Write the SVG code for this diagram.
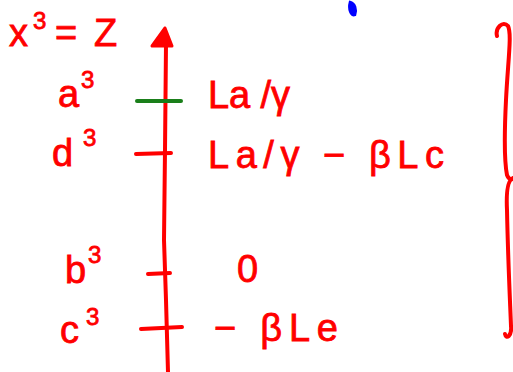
<svg xmlns="http://www.w3.org/2000/svg" width="513" height="372" viewBox="0 0 513 372">
<style>
.t{font-family:"Liberation Sans","DejaVu Sans",sans-serif;fill:#ff0000;stroke:#ff0000;stroke-width:0.8;font-size:38px}
.s{font-size:24px}
.ln{stroke:#ff0000;stroke-width:4;fill:none;stroke-linecap:round;stroke-linejoin:round}
</style>
<rect width="513" height="372" fill="#fff"/>
<g id="connectors">
<path class="ln" d="M166,44 L165,150 L164,240 L166,300 L168,372"/>
<path d="M165,28 L152,46 L172,46 Z" fill="#ff0000" stroke="#ff0000" stroke-width="3" stroke-linejoin="round"/>
<path d="M137,101 L181,101" stroke="#1a7f1a" stroke-width="4" stroke-linecap="round"/>
<path class="ln" d="M136,154 L171,153"/>
<path class="ln" d="M148,274 L170,273"/>
<path class="ln" d="M141,329 L182,327"/>
<path class="ln" d="M497,36 C495,28 503,20 508,26 C512,34 508,60 506,100 C504,140 504,160 507,175 C509,180 512,180 513,178 M513,178 C508,180 506,190 507,210 C508,260 510,300 511,326 C512,336 506,340 505,334"/>
<path d="M350,2 C348,9 351,17 355,15 C357,10 355,3 350,2 Z" fill="#0000ff" stroke="#0000ff" stroke-width="2.5"/>
</g>
<g id="axis-label"><text class="t" x="9" y="46">x</text><text class="t s" x="33" y="29">3</text><text class="t" x="55" y="46">=</text><text class="t" x="94" y="46">Z</text></g>
<g id="node-a"><text class="t" x="58" y="107">a</text><text class="t s" x="81" y="88">3</text><text class="t" x="208" y="108" textLength="82" lengthAdjust="spacing">La /γ</text></g>
<g id="node-d"><text class="t" x="52" y="166">d</text><text class="t s" x="83" y="146">3</text><text class="t" x="208" y="168" textLength="236" lengthAdjust="spacing">La/γ − βLc</text></g>
<g id="node-b"><text class="t" x="65" y="283">b</text><text class="t s" x="88" y="263">3</text><text class="t" x="237" y="282">0</text></g>
<g id="node-c"><text class="t" x="60" y="343">c</text><text class="t s" x="86" y="325">3</text><text class="t" x="214" y="341" textLength="124" lengthAdjust="spacing">− βLe</text></g>
</svg>
